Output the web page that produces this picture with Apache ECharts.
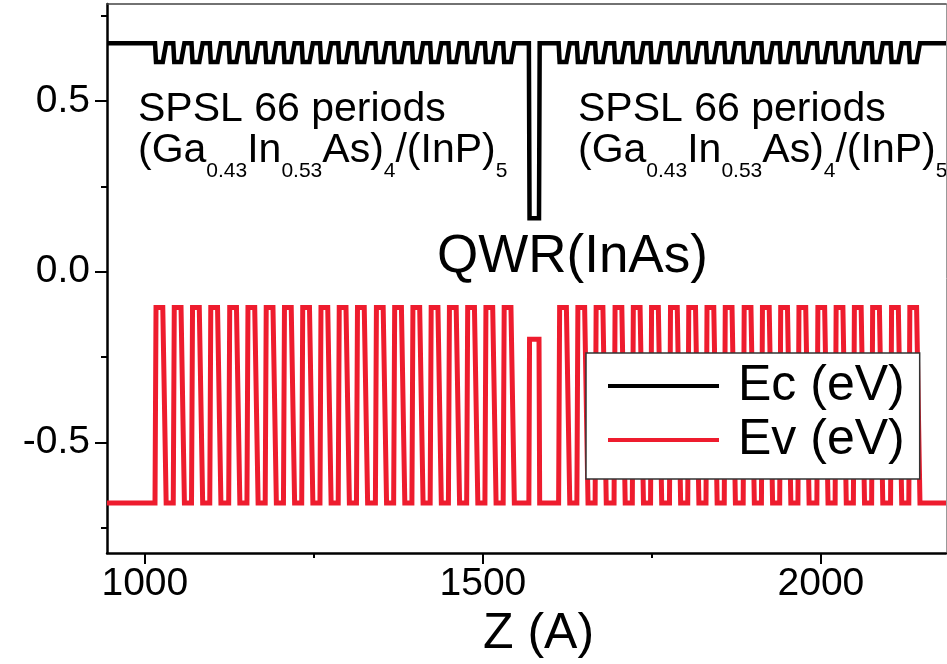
<!DOCTYPE html>
<html lang="en">
<head>
<meta charset="UTF-8">
<title>Band profile</title>
<style>
  html, body { margin: 0; padding: 0; background: #fff; }
  #chart { width: 947px; height: 664px; }
</style>
</head>
<body>
<div id="chart"></div>
<script src="https://cdn.jsdelivr.net/npm/echarts@6/dist/echarts.min.js"></script>
<script>
// Z positions (A) where each GaInAs well of the superlattice starts
const leftWellStarts = [1015, 1042, 1069, 1096, 1124, 1151, 1178, 1205, 1232, 1259,
                        1286, 1313, 1341, 1368, 1395, 1422, 1449, 1476, 1503, 1530];
const rightWellStarts = [1612, 1639, 1666, 1694, 1721, 1748, 1776, 1803, 1830, 1857,
                         1885, 1912, 1939, 1966, 1994, 2021, 2048, 2075, 2103, 2130];
const qwrSpan = [1568, 1584];
const zRange = [944, 2185];

// band edges (eV): [barrier, SL well, QWR]
const ecLevels = [0.670, 0.615, 0.157];
const evLevels = [-0.678, -0.105, -0.198];

const xMajorTicks = [1000, 1500, 2000];
const xMinorTicks = [1250, 1750];
const yMajorTicks = [-0.5, 0, 0.5];
const yMinorTicks = [-0.75, -0.25, 0.25, 0.75];

const seriesNames = ['Ec (eV)', 'Ev (eV)'];

// shape of one well inside a period (A): rise, flat, fall
const RISE = 1.5, FLAT = 10, FALL = 5;

function profile(levels) {
    const [barrier, well, qwr] = levels;
    const pts = [[zRange[0], barrier]];
    const addWell = s => {
        pts.push([s, barrier], [s + RISE, well], [s + RISE + FLAT, well], [s + RISE + FLAT + FALL, barrier]);
    };
    leftWellStarts.forEach(addWell);
    pts.push([qwrSpan[0], barrier], [qwrSpan[0] + 1, qwr], [qwrSpan[1] - 1, qwr], [qwrSpan[1], barrier]);
    rightWellStarts.forEach(addWell);
    pts.push([zRange[1], barrier]);
    return pts;
}

const FONT = 'Liberation Sans, Arial, Helvetica, sans-serif';
const RED = '#ee1c2e';

const chart = echarts.init(document.getElementById('chart'));

const hidden = { show: false };
const tickStyle = { color: '#000', width: 2 };

const sublRich = {
    m: { fontSize: 41, fontFamily: FONT, color: '#000', lineHeight: 41, verticalAlign: 'top' },
    s: { fontSize: 21, fontFamily: FONT, color: '#000', lineHeight: 21, verticalAlign: 'top', padding: [31, 0, 0, 0] }
};
const sublText = '{m|(Ga}{s|0.43}{m|In}{s|0.53}{m|As)}{s|4}{m|/(InP)}{s|5}';

chart.setOption({
    animation: false,
    grid: { left: 107, right: 1, top: 4, bottom: 110 },
    xAxis: [
        {
            type: 'value', min: zRange[0], max: zRange[1], position: 'bottom',
            axisLine: { onZero: false, lineStyle: { color: '#000', width: 2.5 } },
            axisTick: { customValues: xMajorTicks, length: 11, lineStyle: tickStyle },
            axisLabel: {
                customValues: xMajorTicks, fontSize: 39, fontFamily: FONT, color: '#000', margin: 12,
                formatter: v => String(v)
            },
            splitLine: hidden,
            name: 'Z (A)', nameLocation: 'middle', nameGap: 55,
            nameTextStyle: { fontSize: 50, fontFamily: FONT, color: '#000', padding: [0, 0, 0, 24] }
        },
        {
            type: 'value', min: zRange[0], max: zRange[1], position: 'bottom',
            axisLine: { show: false, onZero: false },
            axisTick: { customValues: xMinorTicks, length: 5, lineStyle: tickStyle },
            axisLabel: hidden, splitLine: hidden
        },
        {
            type: 'value', min: zRange[0], max: zRange[1], position: 'top',
            axisLine: { onZero: false, lineStyle: { color: '#444', width: 1.5 } },
            axisTick: hidden, axisLabel: hidden, splitLine: hidden
        }
    ],
    yAxis: [
        {
            type: 'value', min: -0.825, max: 0.785, position: 'left',
            axisLine: { show: true, onZero: false, lineStyle: { color: '#000', width: 2.5 } },
            axisTick: { show: true, customValues: yMajorTicks, length: 12, lineStyle: tickStyle },
            axisLabel: {
                customValues: yMajorTicks, fontSize: 39, fontFamily: FONT, color: '#000', margin: 17,
                formatter: v => Number(v).toFixed(1)
            },
            splitLine: hidden
        },
        {
            type: 'value', min: -0.825, max: 0.785, position: 'left',
            axisLine: { show: false, onZero: false },
            axisTick: { show: true, customValues: yMinorTicks, length: 6, lineStyle: tickStyle },
            axisLabel: hidden, splitLine: hidden
        },
        {
            type: 'value', min: -0.825, max: 0.785, position: 'right',
            axisLine: { show: true, onZero: false, lineStyle: { color: '#999', width: 1 } },
            axisTick: hidden, axisLabel: hidden, splitLine: hidden
        }
    ],
    legend: {
        data: seriesNames,
        orient: 'vertical', left: 586, top: 353,
        padding: [8, 15, 14, 22],
        itemWidth: 111, itemHeight: 4, itemGap: 4, icon: 'rect',
        backgroundColor: '#fff', borderColor: '#333', borderWidth: 1.5, borderRadius: 0,
        textStyle: { fontSize: 50, fontFamily: FONT, color: '#000', lineHeight: 50, padding: [0, 0, 0, 14] }
    },
    graphic: [
        { type: 'text', left: 138, top: 89, style: { text: 'SPSL 66 periods', font: '41px ' + FONT, fill: '#000' } },
        { type: 'text', left: 138, top: 130, style: { text: sublText, rich: sublRich } },
        { type: 'text', left: 578, top: 89, style: { text: 'SPSL 66 periods', font: '41px ' + FONT, fill: '#000' } },
        { type: 'text', left: 578, top: 130, style: { text: sublText, rich: sublRich } },
        { type: 'text', left: 437, top: 231, style: { text: 'QWR(InAs)', font: '53px ' + FONT, fill: '#000' } }
    ],
    series: [
        {
            name: seriesNames[0], type: 'line', data: profile(ecLevels),
            showSymbol: false, symbol: 'none', color: '#000',
            lineStyle: { color: '#000', width: 4.5, join: 'miter', cap: 'butt' }
        },
        {
            name: seriesNames[1], type: 'line', data: profile(evLevels),
            showSymbol: false, symbol: 'none', color: RED,
            lineStyle: { color: RED, width: 5, join: 'miter', cap: 'butt' }
        }
    ]
});
</script>
</body>
</html>
